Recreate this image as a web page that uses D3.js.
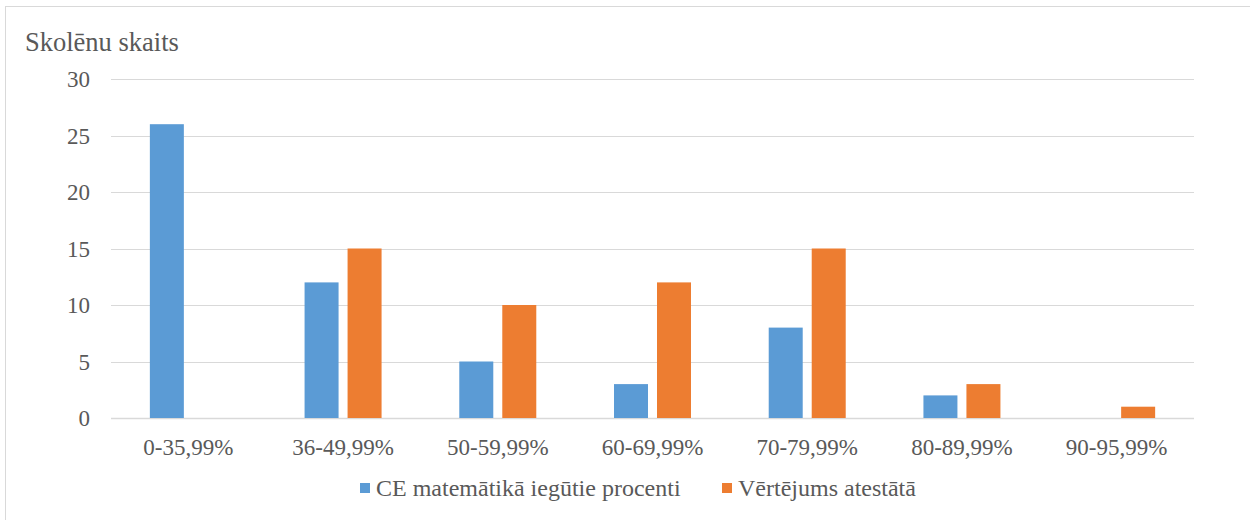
<!DOCTYPE html>
<html>
<head>
<meta charset="utf-8">
<script src="https://cdn.jsdelivr.net/npm/d3@7/dist/d3.min.js"></script>
<style>
  html, body { margin: 0; padding: 0; background: #fff; }
  svg { display: block; }
</style>
</head>
<body>
<svg id="chart" width="1250" height="520"></svg>
<script>
// Score bands
const categories = ["0-35,99%", "36-49,99%", "50-59,99%", "60-69,99%", "70-79,99%", "80-89,99%", "90-95,99%"];
// Number of students per band
const ceValues = [26, 12, 5, 3, 8, 2, 0];
const certValues = [0, 15, 10, 12, 15, 3, 1];
const seriesNames = ["CE matemātikā iegūtie procenti", "Vērtējums atestātā"];
const yTicks = [0, 5, 10, 15, 20, 25, 30];
const yTitle = "Skolēnu skaits";

const colors = ["#5B9BD5", "#ED7D31"];
const FONT = "'Liberation Serif', 'Times New Roman', serif";
const TEXT = "#595959";
const svg = d3.select("#chart");

// outer frame
svg.append("rect")
  .attr("x", 5.5).attr("y", 6.5)
  .attr("width", 1260).attr("height", 530)
  .attr("fill", "none").attr("stroke", "#d9d9d9").attr("stroke-width", 1);

const plot = { left: 111, right: 1194, top: 79, bottom: 418 };

const x = d3.scaleBand().domain(categories).range([plot.left, plot.right]);
const y = d3.scaleLinear().domain([0, 30]).range([plot.bottom, plot.top]);

// gridlines
svg.append("g").selectAll("line").data(yTicks).join("line")
  .attr("x1", plot.left).attr("x2", plot.right)
  .attr("y1", d => Math.round(y(d)) + 0.5).attr("y2", d => Math.round(y(d)) + 0.5)
  .attr("stroke", "#d9d9d9").attr("stroke-width", d => d === 0 ? 1.5 : 1);

// y axis labels
const yAxis = d3.axisLeft(y).tickValues(yTicks).tickSize(0).tickPadding(0);
const gy = svg.append("g").attr("transform", `translate(${plot.left - 21},0)`).call(yAxis)
  .attr("font-family", FONT).attr("font-size", 23);
gy.select(".domain").remove();
gy.selectAll("text").attr("fill", TEXT).attr("dy", "0.34em");

// x axis labels
const xAxis = d3.axisBottom(x).tickSize(0).tickPadding(0);
const gx = svg.append("g").attr("transform", `translate(0,455)`).call(xAxis)
  .attr("font-family", FONT).attr("font-size", 23);
gx.select(".domain").remove();
gx.selectAll("text").attr("fill", TEXT).attr("y", 0).attr("dy", "0");

// bars
const barW = 34, gap = 9;
const inner = d3.scaleBand().domain([0, 1]).range([0, barW * 2 + gap]).paddingInner(gap / (barW + gap));
const offset = (x.bandwidth() - (barW * 2 + gap)) / 2;
[ceValues, certValues].forEach((vals, si) => {
  svg.append("g").selectAll("rect").data(vals).join("rect")
    .attr("x", (d, i) => x(categories[i]) + offset + inner(si))
    .attr("y", d => y(d))
    .attr("width", inner.bandwidth())
    .attr("height", d => y(0) - y(d))
    .attr("fill", colors[si]);
});

// axis title
svg.append("text").attr("x", 25).attr("y", 51)
  .attr("font-family", FONT).attr("font-size", 26.5).attr("fill", TEXT)
  .text(yTitle);

// legend
const legendX = [360, 722];
seriesNames.forEach((name, i) => {
  const g = svg.append("g").attr("transform", `translate(${legendX[i]},496)`);
  g.append("rect").attr("x", 0).attr("y", -13).attr("width", 10).attr("height", 10).attr("fill", colors[i]);
  g.append("text").attr("x", 16).attr("y", 0)
    .attr("font-family", FONT).attr("font-size", 24).attr("fill", TEXT)
    .text(name);
});
</script>
</body>
</html>
